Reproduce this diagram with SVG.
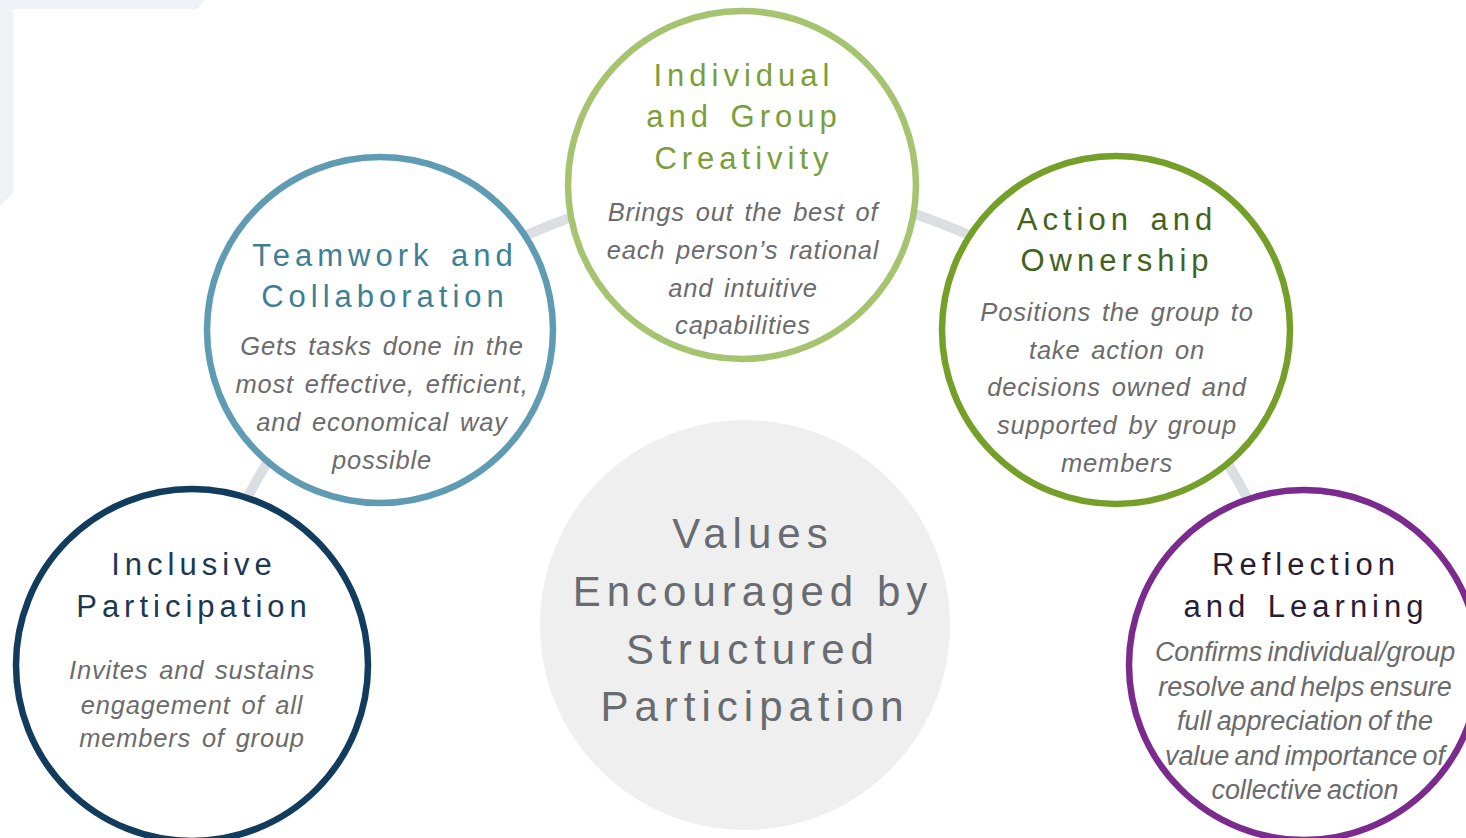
<svg xmlns="http://www.w3.org/2000/svg" width="1466" height="838" viewBox="0 0 1466 838">
  <style>
    .ring { fill: #ffffff; stroke-width: 6.5; }
    .title { font-family: "Liberation Sans", Arial, sans-serif; font-size: 31px; letter-spacing: 5px; word-spacing: 4px; text-anchor: middle; }
    .body { font-family: "Liberation Sans", Arial, sans-serif; font-size: 25.5px; font-style: italic; fill: #6b6b6b; letter-spacing: 0.8px; word-spacing: 3px; text-anchor: middle; }
    .body2 { font-family: "Liberation Sans", Arial, sans-serif; font-size: 27px; font-style: italic; fill: #6b6b6b; letter-spacing: -0.1px; word-spacing: -2px; text-anchor: middle; }
    .center { font-family: "Liberation Sans", Arial, sans-serif; font-size: 42px; fill: #686b70; letter-spacing: 6px; text-anchor: middle; }
  </style>
  <rect width="1466" height="838" fill="#ffffff"/>
  <polygon points="0,0 205,0 197,9 13,9 13,193 0,206" fill="#eef2f6"/>

  <g id="connectors">
    <path d="M192,665 A560,560 0 0 1 380,330 A575,575 0 0 1 742,185 A575,575 0 0 1 1116,330 A575,575 0 0 1 1303,665" fill="none" stroke="#dcdfe2" stroke-width="10"/>
  </g>

  <g id="center">
    <circle cx="745" cy="625" r="205" fill="#efefef"/>
    <text class="center" x="753" y="548">Values</text>
    <text class="center" x="753" y="606">Encouraged by</text>
    <text class="center" x="753" y="664">Structured</text>
    <text class="center" x="755" y="721">Participation</text>
  </g>

  <g id="teamwork">
    <circle class="ring" cx="380" cy="330" r="173" stroke="#5f9cb3"/>
    <text class="title" x="385" y="266" fill="#3f7f93">Teamwork and</text>
    <text class="title" x="385" y="307" fill="#3f7f93">Collaboration</text>
    <text class="body" x="382" y="355">Gets tasks done in the</text>
    <text class="body" x="382" y="393">most effective, efficient,</text>
    <text class="body" x="382" y="431">and economical way</text>
    <text class="body" x="382" y="469">possible</text>
  </g>

  <g id="individual">
    <circle class="ring" cx="742" cy="185" r="174" stroke="#a6c46f"/>
    <text class="title" x="744" y="86" fill="#7a9e3a">Individual</text>
    <text class="title" x="744" y="127" fill="#7a9e3a">and Group</text>
    <text class="title" x="744" y="169" fill="#7a9e3a">Creativity</text>
    <text class="body" x="743" y="221">Brings out the best of</text>
    <text class="body" x="743" y="259">each person’s rational</text>
    <text class="body" x="743" y="297">and intuitive</text>
    <text class="body" x="743" y="334">capabilities</text>
  </g>

  <g id="action">
    <circle class="ring" cx="1116" cy="330" r="174" stroke="#74a02a"/>
    <text class="title" x="1117" y="230" fill="#42631b">Action and</text>
    <text class="title" x="1117" y="271" fill="#42631b">Ownership</text>
    <text class="body" x="1117" y="321">Positions the group to</text>
    <text class="body" x="1117" y="359">take action on</text>
    <text class="body" x="1117" y="396">decisions owned and</text>
    <text class="body" x="1117" y="434">supported by group</text>
    <text class="body" x="1117" y="472">members</text>
  </g>

  <g id="inclusive">
    <circle class="ring" cx="192" cy="665" r="176" stroke="#123c5e"/>
    <text class="title" x="194" y="575" fill="#1b3853">Inclusive</text>
    <text class="title" x="194" y="617" fill="#1b3853">Participation</text>
    <text class="body" x="192" y="679">Invites and sustains</text>
    <text class="body" x="192" y="714">engagement of all</text>
    <text class="body" x="192" y="747">members of group</text>
  </g>

  <g id="reflection">
    <circle class="ring" cx="1304" cy="665" r="175" stroke="#7b2b8e"/>
    <text class="title" x="1306" y="575" fill="#2a1c33">Reflection</text>
    <text class="title" x="1306" y="617" fill="#2a1c33">and Learning</text>
    <text class="body2" x="1305" y="661">Confirms individual/group</text>
    <text class="body2" x="1305" y="696">resolve and helps ensure</text>
    <text class="body2" x="1305" y="730">full appreciation of the</text>
    <text class="body2" x="1305" y="765">value and importance of</text>
    <text class="body2" x="1305" y="799">collective action</text>
  </g>
</svg>
